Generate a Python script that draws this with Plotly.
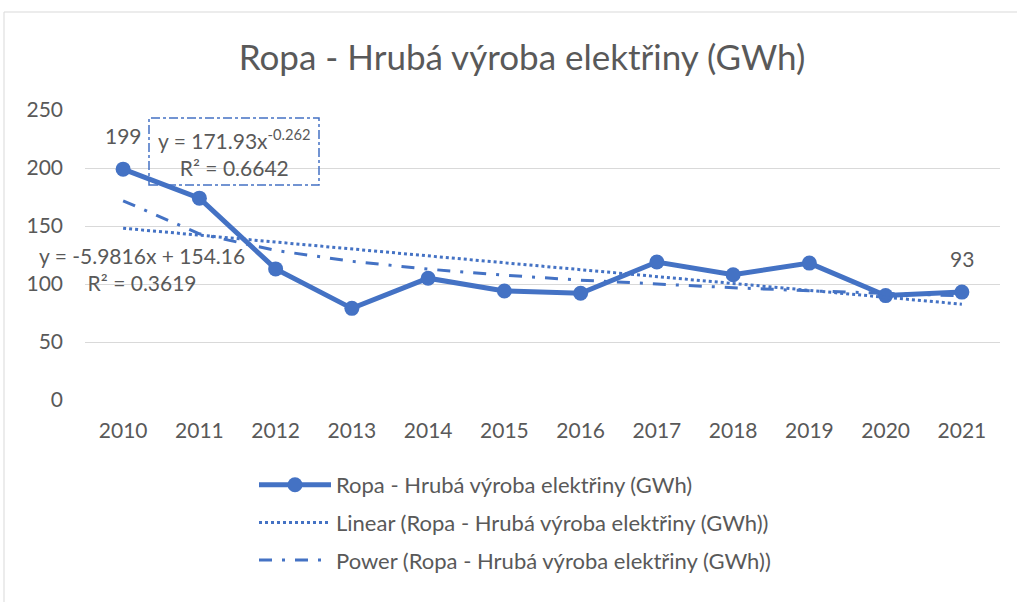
import numpy as np
import plotly.graph_objects as go

years = ["2010", "2011", "2012", "2013", "2014", "2015", "2016", "2017", "2018", "2019", "2020", "2021"]
values = [199, 174, 113, 79, 105, 94, 92, 119, 108, 118, 90, 93]
series_name = "Ropa - Hrubá výroba elektřiny (GWh)"
linear_name = "Linear (Ropa - Hrubá výroba elektřiny (GWh))"
power_name = "Power (Ropa - Hrubá výroba elektřiny (GWh))"
linear_label = "y = -5.9816x + 154.16<br>R² = 0.3619"
power_label = "y = 171.93x<sup>-0.262</sup><br>R² = 0.6642"

BLUE = "#4472C4"
GREY = "#595959"
FONT = "Lato"

# trendlines fitted from the data (Excel-style, x = 1..n)
xi = np.arange(1, len(values) + 1)
vals = np.array(values, dtype=float)
lin_c = np.polyfit(xi, vals, 1)
lin_y = np.polyval(lin_c, xi)
pw_c = np.polyfit(np.log(xi), np.log(vals), 1)
pw_y = np.exp(pw_c[1]) * xi ** pw_c[0]

fig = go.Figure()
fig.add_trace(go.Scatter(x=years, y=values, name=series_name, mode="lines+markers",
                         line=dict(color=BLUE, width=5), marker=dict(size=15, color=BLUE),
                         legendgroup="a"))
fig.add_trace(go.Scatter(x=years, y=lin_y, name=linear_name, mode="lines",
                         line=dict(color=BLUE, width=3, dash="dot"), legendgroup="b"))
fig.add_trace(go.Scatter(x=years, y=pw_y, name=power_name, mode="lines",
                         line=dict(color=BLUE, width=3, dash="13px,10px,3px,10px"), legendgroup="c"))

L, R, T, B = 85, 17, 110, 202
W, H = 1017, 602
pw, ph = W - L - R, H - T - B

def px(x):
    return (x - L) / pw

def py(y):
    return (H - B - y) / ph

ann_font = dict(size=21, color=GREY, family=FONT)
# data labels on first and last points (category index on the x axis)
fig.add_annotation(x=0, y=values[0], text=str(values[0]), showarrow=False, yshift=34,
                   font=ann_font)
fig.add_annotation(x=len(years) - 1, y=values[-1], text=str(values[-1]), showarrow=False, yshift=34,
                   font=ann_font)
fig.add_annotation(xref="paper", yref="paper", x=px(142), y=py(269), text=linear_label,
                   xanchor="center", yanchor="middle",
                   showarrow=False, align="center", font=ann_font)
fig.add_annotation(xref="paper", yref="paper", x=px(234), y=py(152), text=power_label,
                   xanchor="center", yanchor="middle",
                   showarrow=False, align="center", font=ann_font)
fig.add_shape(type="rect", xref="paper", yref="paper", x0=px(149), x1=px(319), y0=py(185), y1=py(118),
              line=dict(color=BLUE, width=1.5, dash="dashdot"))
fig.add_shape(type="rect", xref="paper", yref="paper", x0=px(4), x1=px(1030), y0=py(640), y1=py(12),
              line=dict(color="#d9d9d9", width=1))

fig.update_layout(
    width=W, height=H,
    margin=dict(l=L, r=R, t=T, b=B),
    paper_bgcolor="white", plot_bgcolor="white",
    title=dict(text=series_name, x=522 / W, xanchor="center", y=1 - 58 / H, yanchor="middle",
               font=dict(size=35, color=GREY, family=FONT)),
    font=dict(family=FONT, color=GREY, size=21),
    showlegend=True,
    legend=dict(x=px(254), y=py(464), xanchor="left", yanchor="top", orientation="v",
                font=dict(size=22, color=GREY, family=FONT), tracegroupgap=6,
                itemwidth=72, bgcolor="rgba(0,0,0,0)"),
    xaxis=dict(type="category", showgrid=False, zeroline=False, showline=False, ticks="",
               ticklabelstandoff=16,
               tickfont=dict(size=21, color=GREY, family=FONT), range=[-0.5, 11.5]),
    yaxis=dict(range=[0, 250], dtick=50, showgrid=True, gridcolor="#d9d9d9", gridwidth=1,
               zeroline=False, showline=False, ticks="", ticklabelstandoff=21,
               tickfont=dict(size=21, color=GREY, family=FONT)),
)

fig.write_html("out.html", config={"displayModeBar": False},
               post_script="document.body.style.margin='0';document.body.style.overflow='hidden';")
